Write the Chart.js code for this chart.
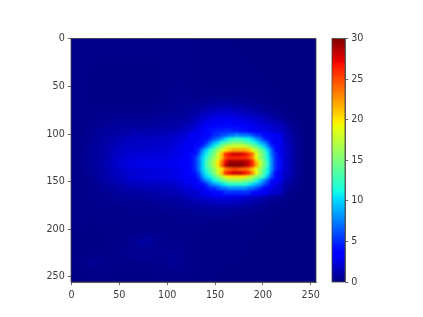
<!DOCTYPE html>
<html><head><meta charset="utf-8">
<script src="https://cdn.jsdelivr.net/npm/chart.js@4"></script>
<style>html,body{margin:0;padding:0;background:#fff}
#w{position:relative;width:423px;height:317px}
canvas{position:absolute;left:0;top:0}</style></head>
<body><div id="w"><canvas id="main" width="423" height="317"></canvas><canvas id="bar" width="423" height="317"></canvas></div>
<script>
const tickValues=[0,50,100,150,200,250];
const colorbarTicks=[0,5,10,15,20,25,30];
const colorbarRange=[0,30];
const backgroundCell=8;
const backgroundRows=[
[.3,.3,.3,.3,.3,.3,.3,.3,.3,.3,.3,.3,.3,.3,.3,.3,.2,.2,.2,.2,.2,.1,.1,.1,.1,.1,.1,.1,.1,.1,.1,.1],
[.3,.3,.3,.3,.3,.3,.3,.3,.3,.3,.3,.3,.3,.3,.3,.3,.2,.2,.2,.2,.2,.2,.1,.1,.1,.1,.1,.1,.1,.1,.1,.1],
[.3,.3,.3,.3,.3,.3,.3,.3,.3,.3,.3,.3,.3,.3,.3,.3,.2,.2,.2,.2,.2,.2,.2,.1,.1,.1,.1,.1,.1,.1,.1,.1],
[.3,.3,.3,.2,.2,.2,.2,.2,.2,.2,.2,.2,.3,.3,.3,.3,.2,.2,.2,.2,.2,.2,.2,.2,.1,.1,.1,.1,.1,.1,.1,.1],
[.3,.3,.2,.2,.2,.2,.2,.2,.2,.2,.2,.2,.3,.3,.3,.3,.2,.2,.2,.2,.2,.2,.2,.2,.2,.1,.1,.1,.1,.1,.1,.1],
[.3,.3,.2,.2,.2,.2,.2,.2,.2,.2,.2,.2,.3,.3,.4,.3,.3,.2,.2,.2,.2,.2,.2,.2,.2,.2,.1,.1,.1,.1,.1,.1],
[.3,.3,.2,.2,.2,.2,.2,.2,.2,.2,.2,.2,.3,.4,.4,.3,.3,.3,.2,.2,.2,.2,.2,.2,.2,.2,.2,.1,.1,.1,.1,.1],
[.3,.3,.2,.2,.2,.2,.2,.2,.2,.2,.2,.2,.3,.4,.4,.4,.3,.3,.3,.3,.3,.3,.3,.3,.3,.2,.2,.1,.1,.1,.1,.1],
[.3,.3,.2,.2,.2,.2,.2,.2,.2,.2,.2,.3,.4,.4,.5,.5,.5,.6,.7,.8,.8,.7,.6,.5,.4,.3,.2,.2,.1,.1,.1,.1],
[.3,.3,.3,.3,.3,.3,.3,.3,.3,.3,.4,.4,.5,.5,.6,.7,.9,1.2,1.5,1.7,1.7,1.6,1.3,1.1,.8,.6,.4,.3,.2,.1,.1,.1],
[.3,.3,.3,.4,.4,.5,.5,.5,.5,.5,.6,.6,.7,.7,.8,1.0,1.5,2.1,2.6,2.8,2.8,2.7,2.4,2.1,1.8,1.3,.9,.6,.3,.2,.1,.1],
[.3,.3,.4,.5,.6,.7,.7,.7,.7,.7,.8,.8,.9,1.0,1.2,1.5,2.2,3.0,3.5,3.8,3.9,3.7,3.4,3.0,2.6,2.3,2.0,1.5,.8,.3,.1,.1],
[.3,.3,.5,.7,.8,.9,1.0,1.1,1.3,1.3,1.3,1.4,1.5,1.6,1.9,2.3,2.9,3.5,4.5,5.0,5.3,5.0,4.4,3.8,3.1,2.7,2.3,1.9,1.2,.4,.2,.1],
[.3,.4,.5,.7,.9,1.2,1.5,1.7,1.8,1.8,1.8,1.9,2.0,2.2,2.5,2.9,3.5,4.8,6.5,8.5,8.5,7.5,6.0,4.8,3.8,3.2,2.7,2.3,1.5,.5,.2,.1],
[.3,.4,.6,.8,1.0,1.4,1.7,1.9,1.8,1.9,1.9,2.0,2.2,2.4,2.8,3.3,4.0,5.5,8.0,11,11,9.0,7.0,5.0,4.0,3.3,2.9,2.4,1.6,.6,.2,.1],
[.3,.4,.6,.8,1.1,1.6,2.0,2.2,2.3,2.3,2.4,2.4,2.5,2.7,3.0,3.5,4.5,7.0,11,14,14,12,9.0,6.0,4.5,3.5,2.9,2.5,1.7,.6,.2,.1],
[.3,.4,.6,.9,1.2,1.7,2.2,2.6,2.7,2.9,2.8,2.8,2.9,3.0,3.2,3.7,4.5,7.0,12,15,15,13,9.0,6.0,4.5,3.6,3.0,2.5,1.7,.6,.2,.1],
[.3,.4,.6,.8,1.1,1.5,1.9,2.1,2.2,2.3,2.4,2.4,2.5,2.7,3.0,3.6,4.5,7.0,11,14,14,12,9.0,6.0,4.5,3.5,2.9,2.4,1.6,.6,.2,.1],
[.3,.3,.5,.7,1.0,1.4,1.7,2.0,2.2,2.3,2.4,2.4,2.5,2.6,2.9,3.3,3.8,5.5,8.0,10,10,9.0,7.0,5.0,3.8,3.1,2.6,2.1,1.3,.5,.2,.1],
[.3,.3,.4,.5,.7,.9,1.1,1.3,1.4,1.5,1.6,1.6,1.7,1.8,2.2,2.7,3.2,4.2,5.5,6.5,6.5,6.0,5.0,4.2,3.3,2.5,2.0,1.5,.8,.3,.1,.1],
[.3,.3,.4,.4,.5,.6,.7,.8,.9,1.0,1.1,1.1,1.2,1.3,1.5,1.9,2.3,2.7,3.2,3.5,3.5,3.3,2.9,2.5,2.1,1.6,1.1,.7,.3,.2,.1,.1],
[.3,.3,.3,.4,.4,.5,.5,.5,.5,.5,.6,.6,.7,.8,.9,1.1,1.3,1.5,1.7,1.8,1.8,1.7,1.5,1.2,.9,.7,.4,.3,.2,.1,.1,.1],
[.3,.3,.3,.3,.3,.3,.3,.4,.4,.4,.4,.5,.5,.5,.6,.6,.7,.8,.8,.8,.8,.7,.6,.5,.4,.3,.2,.2,.1,.1,.1,.1],
[.3,.3,.3,.3,.3,.3,.3,.3,.3,.3,.3,.3,.3,.4,.4,.4,.4,.4,.4,.4,.4,.3,.3,.3,.2,.2,.2,.1,.1,.1,.1,.1],
[.3,.3,.2,.2,.3,.3,.3,.3,.3,.3,.3,.3,.3,.3,.3,.3,.3,.3,.2,.2,.2,.2,.2,.2,.2,.2,.1,.1,.1,.1,.1,.1],
[.2,.2,.2,.2,.2,.2,.2,.3,.3,.3,.3,.3,.3,.3,.3,.3,.2,.2,.2,.2,.2,.2,.2,.2,.2,.1,.1,.1,.1,.1,.1,.1],
[.2,.2,.2,.2,.2,.3,.3,.4,.6,.9,.8,.5,.4,.3,.3,.3,.2,.2,.2,.2,.2,.2,.2,.2,.1,.1,.1,.1,.1,.1,.1,.1],
[.2,.2,.2,.2,.2,.2,.3,.4,.5,.6,.6,.4,.4,.4,.4,.3,.2,.2,.2,.2,.2,.2,.2,.1,.1,.1,.1,.1,.1,.1,.1,.1],
[.2,.2,.2,.3,.3,.3,.4,.4,.5,.5,.5,.5,.5,.6,.5,.3,.2,.2,.2,.2,.2,.2,.2,.1,.1,.1,.1,.1,.1,.1,.1,.1],
[.2,.3,.5,.5,.3,.3,.3,.3,.3,.3,.3,.4,.4,.6,.4,.3,.2,.2,.2,.2,.2,.2,.1,.1,.1,.1,.1,.1,.1,.1,.1,.1],
[.2,.2,.3,.3,.3,.2,.2,.2,.2,.2,.2,.3,.3,.4,.3,.3,.2,.2,.2,.2,.1,.1,.1,.1,.1,.1,.1,.1,.1,.1,.1,.1],
[.2,.2,.2,.2,.2,.2,.2,.2,.2,.2,.2,.2,.2,.2,.2,.2,.2,.2,.2,.1,.1,.1,.1,.1,.1,.1,.1,.1,.1,.1,.1,.1]
];
const detailCell=4, detailStartX=124, detailStartY=100;
const detailRows=[
[3,3,3,3,4,4,5,5,6,6,7,7,8,7,7,7,6,5,5,4,4,3,3,3],
[3,3,3,4,4,5,6,7,8,10,11,12,12,12,11,11,10,8,7,5,4,4,3,3],
[3,3,4,4,5,7,9,10,12,13,14,15,15,15,14,13,12,11,9,8,6,4,3,3],
[3,4,4,5,7,9,11,13,15,17,18,18,18,18,18,17,15,14,12,10,8,5,4,3],
[3,4,5,8,10,12,14,16,18,20,21,22,22,22,22,21,19,17,15,13,10,7,4,3],
[4,4,6,9,11,13,15,18,21,26,27,28,28,28,27,26,24,19,16,14,11,7,5,3],
[4,5,7,10,12,14,16,18,21,25,26,26,26,26,26,25,23,19,16,14,11,8,5,4],
[4,5,7,10,13,15,17,20,23,27,29,29,29,29,29,28,26,21,18,15,12,8,5,4],
[4,5,7,10,13,15,17,20,24,28,30,30,30,30,29,28,26,22,18,15,12,8,5,4],
[4,5,7,10,12,14,16,18,20,23,24,25,25,24,24,23,21,19,16,14,11,8,5,4],
[4,4,6,9,11,13,15,18,21,26,27,28,28,28,27,26,23,19,16,13,11,7,4,3],
[3,4,5,8,10,11,13,15,17,19,20,20,20,20,20,18,17,15,14,12,9,6,4,3],
[3,3,4,6,8,9,11,12,14,15,16,16,16,16,15,15,14,12,10,8,6,4,3,3],
[3,3,4,4,5,7,8,9,10,11,12,12,12,12,12,11,10,9,8,6,5,3,3,2],
[2,3,3,3,4,5,5,6,7,7,8,8,8,8,8,7,7,6,5,4,3,3,2,2],
[2,2,2,3,3,3,4,4,4,5,5,5,5,5,5,5,4,4,3,3,3,2,2,2]
];
function lerp(p,t){for(let i=1;i<p.length;i++){if(t<=p[i][0]){const a=p[i-1],b=p[i];return a[1]+(b[1]-a[1])*(t-a[0])/(b[0]-a[0]);}}return p[p.length-1][1];}
const R=[[0,0],[.35,0],[.66,1],[.89,1],[1,.5]],G=[[0,0],[.125,0],[.375,1],[.64,1],[.91,0],[1,0]],B=[[0,.5],[.11,1],[.34,1],[.65,0],[1,0]];
function jet(t){t=Math.max(0,Math.min(1,t));return `rgb(${Math.round(255*lerp(R,t))},${Math.round(255*lerp(G,t))},${Math.round(255*lerp(B,t))})`;}
const cells=(rows,size,sx,sy)=>rows.flatMap((r,j)=>r.map((v,i)=>({x:sx+i*size+size/2-.5,y:sy+j*size+size/2-.5,v})));
const font={family:'"DejaVu Sans"',size:9.6};
const ink='#3a3a3a';
const frame={id:'frame',afterDraw(c){const a=c.chartArea,x=c.ctx;x.save();x.strokeStyle='#444';x.lineWidth=.8;x.strokeRect(a.left,a.top,a.width,a.height);x.restore();}};
const soften={id:'soften',afterDatasetDraw(c,args){const a=c.chartArea,x=c.ctx;const px=args.index===1?1.9:.9;x.save();x.beginPath();x.rect(a.left,a.top,a.width,a.height);x.clip();x.filter=`blur(${px}px)`;x.drawImage(c.canvas,a.left,a.top,a.width,a.height,a.left,a.top,a.width,a.height);x.restore();}};
function cellSet(rows,size,sx,sy){return{data:cells(rows,size,sx,sy),pointStyle:'rect',borderWidth:0,
 pointRadius:c=>{const a=c.chart.chartArea;return (size*(a?a.width:245)/256+1)/Math.SQRT2;},
 pointHoverRadius:0,
 backgroundColor:c=>c.raw?jet(c.raw.v/30):'#00007f'};}
function scaleOpts(extra,pad){return Object.assign({type:'linear',min:-.5,max:255.5,z:1,
 afterBuildTicks:s=>{s.ticks=tickValues.map(value=>({value}));},
 grid:{drawOnChartArea:false,drawTicks:true,tickLength:3.2,color:'#444',lineWidth:.8},
 border:{color:'#444',width:.8},
 ticks:{font,color:ink,padding:pad,maxRotation:0,autoSkip:false}},extra);}
new Chart(document.getElementById('main'),{type:'scatter',
 data:{datasets:[cellSet(detailRows,detailCell,detailStartX,detailStartY),cellSet(backgroundRows,backgroundCell,0,0)]},
 options:{responsive:false,animation:false,events:[],
  layout:{padding:{left:41,right:107,top:38.5,bottom:0}},
  plugins:{legend:{display:false},tooltip:{enabled:false}},
  scales:{x:scaleOpts({afterFit:s=>{s.height=35;}},5),y:scaleOpts({reverse:true,afterFit:s=>{s.width=30;}},3)}},
 plugins:[soften,frame]});
const gradientStops=[0,.11,.125,.34,.35,.375,.5,.64,.65,.66,.75,.89,.91,1];
new Chart(document.getElementById('bar'),{type:'bar',
 data:{labels:['c'],datasets:[{data:[colorbarRange],barPercentage:1,categoryPercentage:1,borderWidth:0,borderSkipped:false,
  backgroundColor:c=>{const a=c.chart.chartArea;if(!a)return '#00007f';const g=c.chart.ctx.createLinearGradient(0,a.bottom,0,a.top);
   gradientStops.forEach(t=>g.addColorStop(t,jet(t)));return g;}}]},
 options:{responsive:false,animation:false,events:[],
  layout:{padding:{left:332,right:48,top:38.5,bottom:35}},
  plugins:{legend:{display:false},tooltip:{enabled:false}},
  scales:{x:{display:false},
   y:{position:'right',min:0,max:30,z:1,afterFit:s=>{s.width=30;},
    afterBuildTicks:s=>{s.ticks=colorbarTicks.map(value=>({value}));},
    grid:{drawOnChartArea:false,drawTicks:true,tickLength:3.2,color:'#444',lineWidth:.8},
    border:{color:'#444',width:.8},
    ticks:{font,color:ink,padding:3}}}},
 plugins:[frame]});
</script></body></html>
